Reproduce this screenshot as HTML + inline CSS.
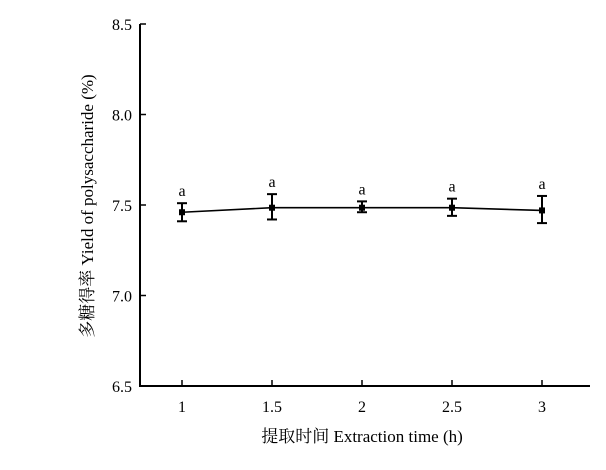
<!DOCTYPE html>
<html><head><meta charset="utf-8"><style>
body{margin:0;background:#fff;}
svg{display:block;font-family:"Liberation Serif","Noto Serif CJK SC",serif;}
</style></head><body>
<svg id="chart" width="606" height="470">
<g id="axes"></g>
<g id="marks"></g>
<text x="362" y="442" font-size="17" text-anchor="middle">提取时间 Extraction time (h)</text>
<text transform="translate(93,206) rotate(-90)" font-size="17" text-anchor="middle">多糖得率 Yield of polysaccharide (%)</text>
</svg>
<script>
const categories=[1,1.5,2,2.5,3];
const values=[7.46,7.485,7.485,7.485,7.47];
const errLow=[7.41,7.42,7.46,7.44,7.40];
const errHigh=[7.51,7.56,7.52,7.535,7.55];
const sigLabels=["a","a","a","a","a"];
const yTicks=[6.5,7.0,7.5,8.0,8.5];
const xTicks=[1,1.5,2,2.5,3];
const NS="http://www.w3.org/2000/svg";
const X0=140,X1=590,YB=386,YT=24;
const xs=v=>182+(v-1)*180;
const ys=v=>YB-(v-6.5)*(YB-YT)/2;
function mk(tag,attrs,parent){const e=document.createElementNS(NS,tag);for(const k in attrs)e.setAttribute(k,attrs[k]);parent.appendChild(e);return e;}
const ax=document.getElementById('axes'),mg=document.getElementById('marks');
let l=mk('line',{x1:X0,y1:YT,x2:X0,y2:YB+1,stroke:'#000','stroke-width':2},ax);


l=mk('line',{x1:X0-1,y1:YB,x2:X1,y2:YB,stroke:'#000','stroke-width':2},ax);


yTicks.forEach(v=>{
  const y=ys(v);
  mk('line',{x1:X0,y1:y,x2:X0+6,y2:y,stroke:'#000','stroke-width':1.5},ax);
  const t=mk('text',{x:X0-8,y:y+6,'font-size':16,'text-anchor':'end'},ax);
  t.textContent=v.toFixed(1);
  
  
});
xTicks.forEach(v=>{
  const x=xs(v);
  mk('line',{x1:x,y1:YB,x2:x,y2:YB-6,stroke:'#000','stroke-width':1.5},ax);
  const t=mk('text',{x:x,y:412,'font-size':16,'text-anchor':'middle'},ax);
  t.textContent=String(v);
  
  
});
const pl=mk('polyline',{points:categories.map((c,i)=>xs(c)+','+ys(values[i])).join(' '),fill:'none',stroke:'#000','stroke-width':1.6},mg);


categories.forEach((c,i)=>{
  const x=xs(c),yh=ys(errHigh[i]),yl=ys(errLow[i]);
  const g=mk('g',{},mg);
  
  
  mk('line',{x1:x,y1:yh,x2:x,y2:yl,stroke:'#000','stroke-width':2},g);
  mk('line',{x1:x-5,y1:yh,x2:x+5,y2:yh,stroke:'#000','stroke-width':2},g);
  mk('line',{x1:x-5,y1:yl,x2:x+5,y2:yl,stroke:'#000','stroke-width':2},g);
  const p=mk('rect',{x:x-3,y:ys(values[i])-3,width:6,height:6,fill:'#000'},mg);
  
  
  const t=mk('text',{x:x,y:yh-7,'font-size':16,'text-anchor':'middle'},mg);
  t.textContent=sigLabels[i];
  
  
});
</script>
</body></html>
